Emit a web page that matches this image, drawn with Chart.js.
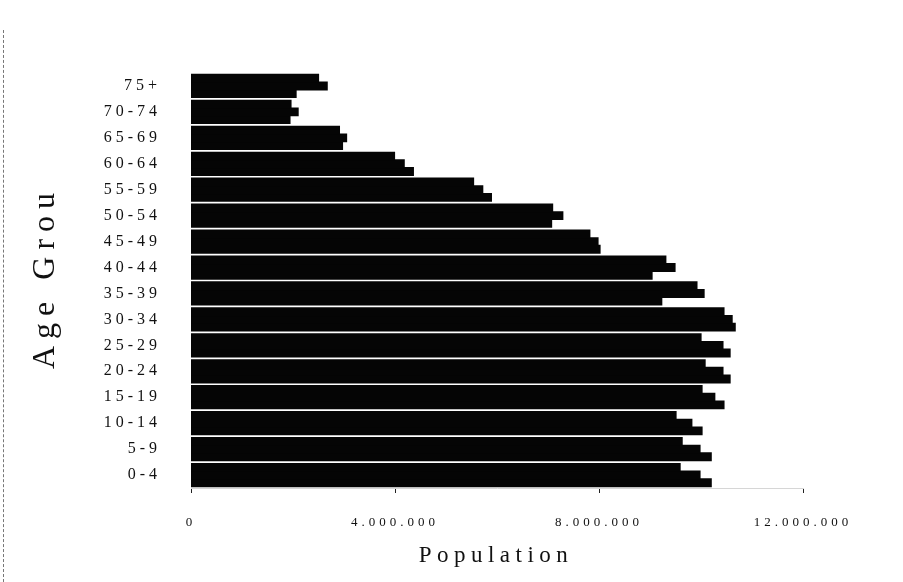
<!DOCTYPE html>
<html>
<head>
<meta charset="utf-8">
<script src="https://cdn.jsdelivr.net/npm/chart.js@4"></script>
<style>
  html, body { margin: 0; padding: 0; background: #fff; }
  #wrap { position: relative; width: 903px; height: 582px; }
  #edge { position: absolute; left: 3px; top: 30px; bottom: 0; border-left: 1px dashed #777; }
</style>
</head>
<body>
<div id="wrap">
  <div id="edge"></div>
  <canvas id="chart" width="903" height="582"></canvas>
</div>
<script>
const ageGroups = ['75+', '70-74', '65-69', '60-64', '55-59', '50-54', '45-49', '40-44',
  '35-39', '30-34', '25-29', '20-24', '15-19', '10-14', '5-9', '0-4'];

// three overlapping series per age group (top, middle, bottom bar)
const series1 = [2500000, 1960000, 2910000, 3990000, 5540000, 7090000, 7820000, 9310000,
  9920000, 10450000, 10000000, 10080000, 10020000, 9510000, 9630000, 9590000];
const series2 = [2670000, 2100000, 3050000, 4180000, 5720000, 7290000, 7980000, 9490000,
  10060000, 10610000, 10430000, 10430000, 10270000, 9820000, 9980000, 9980000];
const series3 = [2060000, 1940000, 2970000, 4360000, 5890000, 7070000, 8020000, 9040000,
  9230000, 10670000, 10570000, 10570000, 10450000, 10020000, 10200000, 10200000];

const xTicks = [0, 4000000, 8000000, 12000000];

const fmt = v => v === 0 ? '0' : String(v).replace(/\B(?=(\d{3})+(?!\d))/g, '.');

// canvas letter spacing for the tick labels
const spacing = {
  id: 'spacing',
  beforeLayout(chart) { chart.ctx.letterSpacing = '4px'; },
  beforeDraw(chart) { chart.ctx.letterSpacing = '4px'; }
};

// axis titles, spaced out like the original
const titles = {
  id: 'titles',
  afterDraw(chart) {
    const { ctx, chartArea } = chart;
    ctx.save();
    ctx.fillStyle = '#111';
    ctx.textAlign = 'center';
    ctx.textBaseline = 'middle';
    ctx.letterSpacing = '5.5px';
    ctx.font = '23px "Liberation Serif"';
    ctx.fillText('Population', (chartArea.left + chartArea.right) / 2 - 1, 556);
    ctx.translate(46, (chartArea.top + chartArea.bottom) / 2 - 3);
    ctx.rotate(-Math.PI / 2);
    ctx.letterSpacing = '7px';
    ctx.font = '32px "Liberation Serif"';
    ctx.fillText('Age Grou', 0, 0);
    ctx.restore();
  }
};

new Chart(document.getElementById('chart'), {
  type: 'bar',
  data: {
    labels: ageGroups,
    datasets: [
      { label: 'Series 1', data: series1, backgroundColor: '#050505' },
      { label: 'Series 2', data: series2, backgroundColor: '#050505' },
      { label: 'Series 3', data: series3, backgroundColor: '#050505' }
    ]
  },
  options: {
    indexAxis: 'y',
    responsive: false,
    animation: false,
    layout: { padding: { top: 73, right: 100, left: 0, bottom: 0 } },
    datasets: { bar: { categoryPercentage: 0.89, barPercentage: 1.0, borderWidth: 0, inflateAmount: 0.6 } },
    plugins: {
      legend: { display: false },
      tooltip: { enabled: false }
    },
    scales: {
      x: {
        min: 0,
        max: 12000000,
        afterFit: s => { s.height = 94; },
        afterBuildTicks: s => { s.ticks = xTicks.map(v => ({ value: v })); },
        grid: { drawOnChartArea: false, tickLength: 5, color: '#222' },
        border: { display: true, color: '#d6d6d6' },
        ticks: {
          padding: 22,
          color: '#111',
          font: { family: 'Liberation Serif', size: 13 },
          callback: v => fmt(v)
        }
      },
      y: {
        afterFit: s => { s.width = 191; },
        grid: { display: false },
        border: { display: false },
        ticks: {
          padding: 22,
          color: '#111',
          font: { family: 'Liberation Serif', size: 16 }
        }
      }
    }
  },
  plugins: [spacing, titles]
});
</script>
</body>
</html>
